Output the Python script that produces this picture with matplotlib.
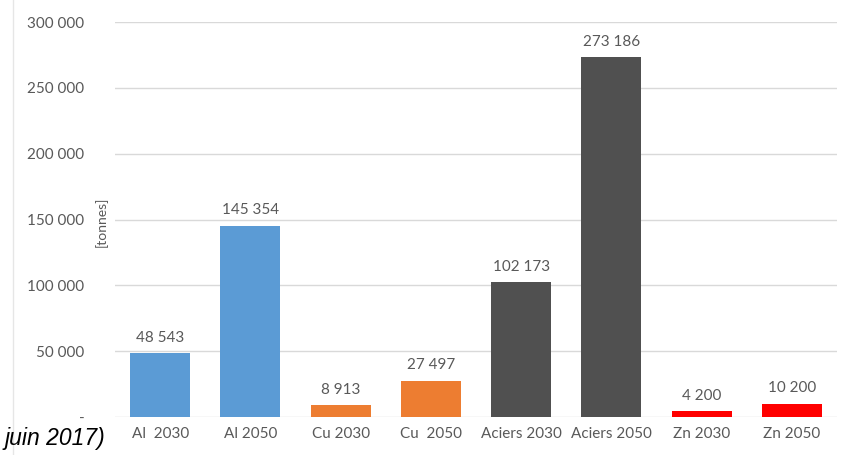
import matplotlib.pyplot as plt
from matplotlib.ticker import FuncFormatter

categories = ["Al  2030", "Al 2050", "Cu 2030", "Cu  2050",
              "Aciers 2030", "Aciers 2050", "Zn 2030", "Zn 2050"]
values = [48543, 145354, 8913, 27497, 102173, 273186, 4200, 10200]
colors = ["#5B9BD5", "#5B9BD5", "#ED7D31", "#ED7D31",
          "#505050", "#505050", "#FF0000", "#FF0000"]
yticks = [0, 50000, 100000, 150000, 200000, 250000, 300000]

plt.rcParams['font.family'] = ['Lato', 'DejaVu Sans']
TXT = "#595959"

W, H = 856, 455
fig = plt.figure(figsize=(W / 100, H / 100), dpi=100)
ax = fig.add_axes([115 / W, 1 - 417 / H, (837 - 115) / W, (417 - 22) / H])

x = range(len(categories))
ax.bar(x, values, width=0.665, color=colors, zorder=3)

def fmt(v):
    return f"{int(v):,}".replace(",", " ")

for xi, v in zip(x, values):
    ax.annotate(fmt(v), (xi, v), xytext=(0, 6), textcoords="offset points",
                ha="center", va="bottom", fontsize=11, color=TXT)

ax.set_xlim(-0.5, len(categories) - 0.5)
ax.set_ylim(0, 300000)
ax.set_yticks(yticks)
ax.yaxis.set_major_formatter(FuncFormatter(lambda v, p: "-" if v == 0 else fmt(v)))
ax.set_xticks(list(x))
ax.set_xticklabels(categories)
ax.tick_params(axis="both", length=0, colors=TXT, labelsize=11)
ax.tick_params(axis="y", pad=22)
ax.tick_params(axis="x", pad=7)
ax.grid(axis="y", color="#D9D9D9", linewidth=1, zorder=0)
for s in ax.spines.values():
    s.set_visible(False)

fig.text(101 / W, 1 - 222 / H, "[tonnes]", rotation=90, ha="center", va="center",
         fontsize=10, color=TXT)

fig.text(105 / W, 1 - 438 / H, "juin 2017)", ha="right", va="center",
         fontsize=16.5, style="italic", color="#000000", family="Liberation Sans")
fig.add_artist(plt.Line2D([13 / W, 13 / W], [0, 1], color="#E6E6E6", linewidth=1))

fig.savefig("out.png", dpi=100, facecolor="white")
